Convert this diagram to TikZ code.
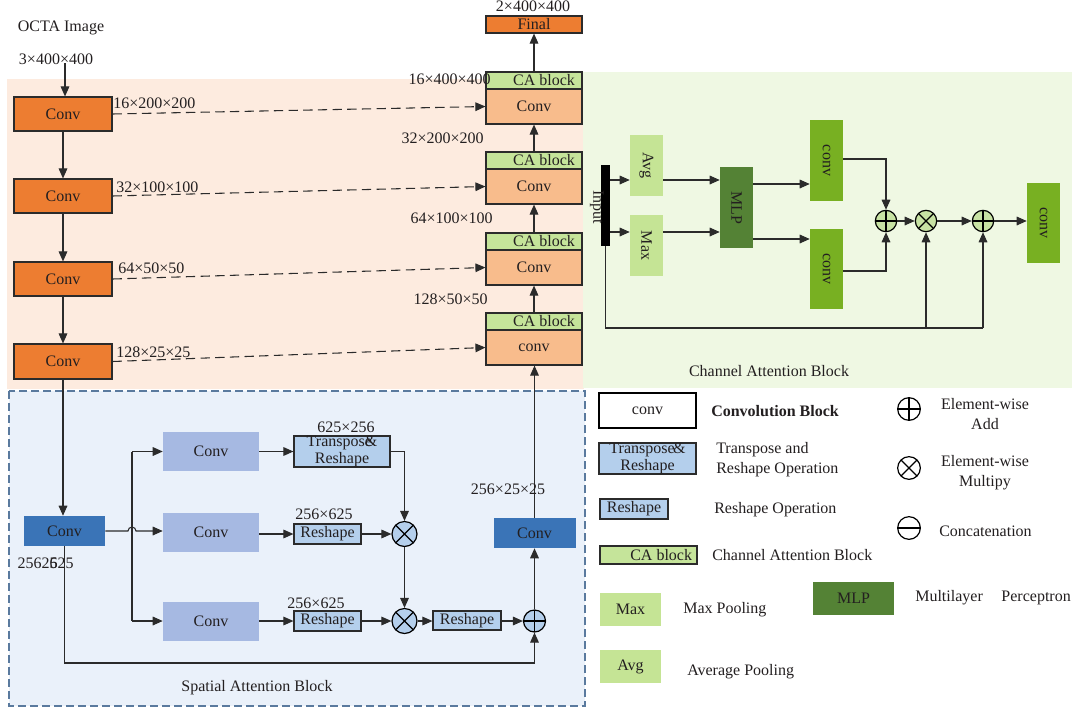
\documentclass[tikz,border=0pt]{standalone}
\usepackage{fontspec}
\usepackage{graphicx}
\setmainfont{Liberation Serif}
\usetikzlibrary{arrows.meta,calc}
\definecolor{orng}{HTML}{ED7D31}
\definecolor{lorng}{HTML}{F8BC8C}
\definecolor{cagreen}{HTML}{C5E49A}
\definecolor{peach}{HTML}{FDEBDF}
\definecolor{lgreenbg}{HTML}{EFF8E3}
\definecolor{sabg}{HTML}{EAF1FA}
\definecolor{sadash}{HTML}{5A7A9E}
\definecolor{dblue}{HTML}{3A74B7}
\definecolor{pblue}{HTML}{A6B9E2}
\definecolor{rsblue}{HTML}{B4CFEC}
\definecolor{poolg}{HTML}{C5E495}
\definecolor{mlpg}{HTML}{548235}
\definecolor{convg}{HTML}{78B022}
\definecolor{circg}{HTML}{C7E2A3}
\definecolor{txt}{HTML}{231F20}
\definecolor{bordc}{HTML}{2B2B2B}
\begin{document}
\begin{tikzpicture}[x=0.75pt,y=-0.75pt,
  font=\fontsize{12}{14.5}\selectfont,
  every node/.append style={text=txt},
  sz/.style 2 args={minimum width=#1*0.75pt, minimum height=#2*0.75pt, inner sep=0pt},
  enc/.style={draw=bordc, line width=0.9pt, fill=orng},
  dec/.style={draw=bordc, line width=0.9pt, fill=lorng},
  cab/.style={draw=bordc, line width=0.9pt, fill=cagreen},
  rs/.style={draw=bordc, line width=0.9pt, fill=rsblue},
  lbl/.style={inner sep=0pt},
  ln/.style={draw=bordc, line width=0.8pt},
  arr/.style={ln, -{Triangle[length=7.5pt,width=6.5pt]}},
  dsh/.style={arr, dash pattern=on 7pt off 4pt},
  addc/.style={circle, draw=black, line width=0.9pt, minimum size=#1, inner sep=0pt,
    path picture={\draw[line width=0.9pt] (path picture bounding box.north) -- (path picture bounding box.south)
      (path picture bounding box.west) -- (path picture bounding box.east);}},
  addc/.default=16pt,
  mulc/.style={circle, draw=black, line width=0.9pt, minimum size=#1, inner sep=0pt,
    path picture={\draw[line width=0.9pt] (path picture bounding box.north east) -- (path picture bounding box.south west)
      (path picture bounding box.north west) -- (path picture bounding box.south east);}},
  mulc/.default=16pt,
  catc/.style={circle, draw=black, line width=0.9pt, minimum size=#1, inner sep=0pt,
    path picture={\draw[line width=0.9pt] (path picture bounding box.west) -- (path picture bounding box.east);}},
  catc/.default=17pt,
]
\fill[white] (0,0) rectangle (1077,711);
\useasboundingbox (0,0) rectangle (1077,711);
% backgrounds
\fill[peach] (7,79) rectangle (584,389);
\fill[lgreenbg] (583,72) rectangle (1072,388);
\draw[sadash, fill=sabg, line width=0.9pt, dash pattern=on 6pt off 3pt] (9,391) rectangle (585,706);

% encoder
\node[enc, sz={98}{34}] (e1) at (63,114) {Conv};
\node[enc, sz={98}{34}] (e2) at (63,196) {Conv};
\node[enc, sz={98}{34}] (e3) at (63,279) {Conv};
\node[enc, sz={98}{35}] (e4) at (63,361.5) {Conv};
\node[lbl] (toc) at (61,28) {OCTA Image};
\node[lbl] (tin) at (56,59) {3×400×400};
\coordinate (src) at (65,63);
\draw[arr] (src) -- (src |- e1.north);
\draw[arr] (e1.south) -- (e2.north);
\draw[arr] (e2.south) -- (e3.north);
\draw[arr] (e3.south) -- (e4.north);

% decoder
\node[enc, sz={96}{17}] (fin) at (534,24.5) {Final};
\node[lbl] (tfin) at (533,6) {2×400×400};
\node[cab, sz={96}{17}] (ca1) at (534,80.5) {\hspace{15pt}CA block};
\node[dec, sz={96}{35}] (d1) at (534,106.5) {Conv};
\node[cab, sz={96}{17}] (ca2) at (534,160.5) {\hspace{15pt}CA block};
\node[dec, sz={96}{35}] (d2) at (534,186.5) {Conv};
\node[cab, sz={96}{17}] (ca3) at (534,241.5) {\hspace{15pt}CA block};
\node[dec, sz={96}{35}] (d3) at (534,267.5) {Conv};
\node[cab, sz={96}{17}] (ca4) at (534,321.5) {\hspace{15pt}CA block};
\node[dec, sz={96}{35}] (d4) at (534,347.5) {conv};
\draw[arr] (ca1.north) -- (fin.south);
\draw[arr] (ca2.north) -- (d1.south);
\draw[arr] (ca3.north) -- (d2.south);
\draw[arr] (ca4.north) -- (d3.south);
\node[lbl, anchor=east] (l1) at (491,79) {16×400×400};
\node[lbl, anchor=east] (l2) at (484,138) {32×200×200};
\node[lbl, anchor=east] (l3) at (493,218) {64×100×100};
\node[lbl, anchor=east] (l4) at (488,299) {128×50×50};

% skip connections
\draw[dsh] (e1.east) -- (d1.west);
\draw[dsh] (e2.east) -- (d2.west);
\draw[dsh] (e3.east) -- (d3.west);
\draw[dsh] (e4.east) -- (d4.west);
\node[lbl, anchor=west] (s1) at (113,103) {16×200×200};
\node[lbl, anchor=west] (s2) at (116,187) {32×100×100};
\node[lbl, anchor=west] (s3) at (118,268) {64×50×50};
\node[lbl, anchor=west] (s4) at (116,352) {128×25×25};

% channel attention block
\node[fill=black, sz={9}{81}] (bar) at (605.5,205.5) {};
\node[lbl] (inp) at (597,207) {\rotatebox{-90}{Input}};
\node[fill=poolg, sz={33}{61}] (avg) at (646.5,165.5) {\rotatebox{-90}{Avg}};
\node[fill=poolg, sz={33}{61}] (max) at (646.5,245.5) {\rotatebox{-90}{Max}};
\node[fill=mlpg, sz={33}{81}] (mlp) at (736.5,207.5) {\rotatebox{-90}{MLP}};
\node[fill=convg, sz={33}{81}] (cct) at (826.5,160.5) {\rotatebox{-90}{conv}};
\node[fill=convg, sz={33}{80}] (ccb) at (826.5,269) {\rotatebox{-90}{conv}};
\node[fill=convg, sz={33}{80}] (cc3) at (1043.5,223) {\rotatebox{-90}{conv}};
\node[addc, fill=circg] (p1) at (886,221) {};
\node[mulc, fill=circg] (m1) at (926,221) {};
\node[addc, fill=circg] (p2) at (983,221) {};
\draw[arr] (bar.east |- 0,180) -- (avg.west |- 0,180);
\draw[arr] (avg.east |- 0,180) -- (mlp.west |- 0,180);
\draw[arr] (bar.east |- 0,232) -- (max.west |- 0,232);
\draw[arr] (max.east |- 0,232) -- (mlp.west |- 0,232);
\draw[arr] (mlp.east |- 0,184) -- (cct.west |- 0,184);
\draw[arr] (mlp.east |- 0,239) -- (ccb.west |- 0,239);
\draw[arr] (cct.east |- 0,159) -| (p1.north);
\draw[arr] (ccb.east |- 0,271) -| (p1.south);
\draw[arr] (p1.east) -- (m1.west);
\draw[arr] (m1.east) -- (p2.west);
\draw[arr] (p2.east) -- (cc3.west |- p2.east);
\coordinate (cl) at (bar.south |- 0,328);
\coordinate (cm1) at (m1.south |- 0,328);
\coordinate (cr) at (p2.south |- 0,328);
\draw[ln] (bar.south) -- (cl) -- (cr);
\draw[arr] (cm1) -- (m1.south);
\draw[arr] (cr) -- (p2.south);
\node[lbl] (tcab) at (769,371) {Channel Attention Block};

% spatial attention block
\node[fill=dblue, sz={81}{30}] (sac) at (64.5,531) {Conv};
\draw[arr] (e4.south) -- (e4.south |- sac.north);
\node[lbl] (t256) at (45.5,563) {2562\rlap{6}525};
\node[fill=pblue, sz={96}{39}] (ct1) at (211,451.5) {Conv};
\node[fill=pblue, sz={96}{39}] (cm) at (211,532.5) {Conv};
\node[fill=pblue, sz={96}{39}] (cb1) at (211,621) {Conv};
\coordinate (bt) at (132,451.5);
\coordinate (bb) at (132,621);
\draw[ln] (bt) -- (bb);
\draw[arr] (bt) -- (ct1.west);
\draw[arr] (bb) -- (cb1.west);
\draw[arr] (sac.east) -- (128,531) arc[start angle=180,end angle=0,radius=3pt] -- (cm.west |- sac.east);
\node[rs, sz={96}{31}, align=center, font=\fontsize{12}{12.5}\selectfont] (tr) at (342,451.5) {Transpos\rlap{e}\&\\Reshape};
\node[rs, sz={67}{20}] (rm) at (327.5,534) {Reshape};
\node[rs, sz={67}{20}] (rb) at (327.5,621) {Reshape};
\node[rs, sz={68}{19}] (rr) at (467,620.5) {Reshape};
\node[mulc=18.75pt, fill=rsblue] (mx1) at (404.5,534) {};
\node[mulc=18.75pt, fill=rsblue] (mx2) at (404.5,621) {};
\node[addc=16.5pt, fill=rsblue] (sp) at (534.5,621) {};
\node[fill=dblue, sz={82}{30}] (sac2) at (534.5,533) {Conv};
\draw[arr] (ct1.east) -- (tr.west);
\draw[arr] (cm.east |- rm.west) -- (rm.west);
\draw[arr] (cb1.east) -- (rb.west);
\draw[arr] (tr.east) -| (mx1.north);
\draw[arr] (rm.east) -- (mx1.west);
\draw[arr] (mx1.south) -- (mx2.north);
\draw[arr] (rb.east) -- (mx2.west);
\draw[arr] (mx2.east) -- (rr.west |- mx2.east);
\draw[arr] (rr.east |- sp.west) -- (sp.west);
\draw[arr] (sac.south) -- (sac.south |- 0,663) -| (sp.south);
\draw[arr] (sp.north) -- (sac2.south);
\draw[arr] (sac2.north) -- (sac2.north |- d4.south);
\node[lbl] (q1) at (346,427) {625×256};
\node[lbl] (q2) at (324,514) {256×625};
\node[lbl] (q3) at (316,603) {256×625};
\node[lbl] (q4) at (508,489) {256×25×25};
\node[lbl] (tsab) at (257,688) {Spatial Attention Block};

% legend
\node[draw=black, line width=0.9pt, fill=white, sz={97}{35}] (lconv) at (647.5,410.5) {conv\hspace{12pt}};
\node[lbl, anchor=west, font=\fontsize{12}{14.5}\selectfont\bfseries] (lconvt) at (711,411) {Convolution Block};
\node[rs, sz={97}{31}, align=center, font=\fontsize{12}{12.5}\selectfont] (ltr) at (647.5,458.5) {Transpose\kern-0.1em\&\\Reshape};
\node[lbl, anchor=west, align=left, font=\fontsize{12}{15}\selectfont] (ltrt) at (716,460) {Transpose and\\Reshape Operation};
\node[rs, sz={68}{20}] (lrs) at (634,509) {Reshape};
\node[lbl, anchor=west] (lrst) at (714,510) {Reshape Operation};
\node[cab, sz={97}{18}] (lca) at (648.5,555) {\hspace{19pt}CA block};
\node[lbl, anchor=west] (lcat) at (712,555) {Channel Attention Block};
\node[fill=poolg, sz={61}{33}] (lmax) at (630.5,609.5) {Max};
\node[lbl, anchor=west] (lmaxt) at (683,610) {Max Pooling};
\node[fill=poolg, sz={61}{33}] (lavg) at (630.5,666.5) {Avg};
\node[lbl, anchor=west] (lavgt) at (687,672) {Average Pooling};
\node[fill=mlpg, sz={81}{33}] (lmlp) at (853.5,598.5) {MLP};
\node[lbl, anchor=west] (lmlpt) at (915,598) {Multilayer\hspace{14pt}Perceptron};
\node[addc=17pt, fill=white] (lp) at (909,409) {};
\node[lbl, align=center, font=\fontsize{12}{15}\selectfont] (lpt) at (985,414) {Element-wise\\Add};
\node[mulc=17pt, fill=white] (lm) at (909,468) {};
\node[lbl, align=center, font=\fontsize{12}{15}\selectfont] (lmt) at (985,473) {Element-wise\\Multipy};
\node[catc=17pt, fill=white] (lc) at (909,528) {};
\node[lbl, anchor=west] (lct) at (939,531) {Concatenation};
\end{tikzpicture}
\end{document}
